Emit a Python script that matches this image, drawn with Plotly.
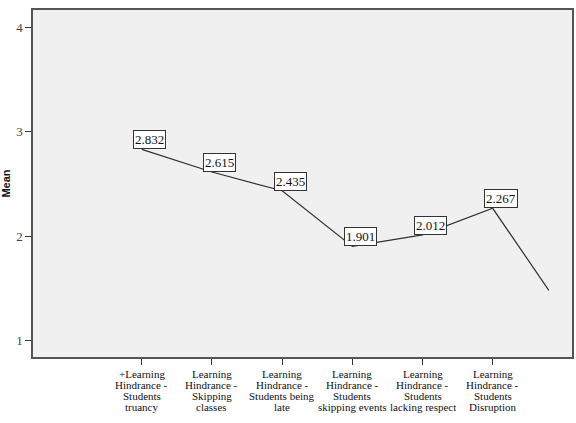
import plotly.graph_objects as go

categories = [
    ["+Learning", "Hindrance -", "Students", "truancy"],
    ["Learning", "Hindrance -", "Skipping", "classes"],
    ["Learning", "Hindrance -", "Students being", "late"],
    ["Learning", "Hindrance -", "Students", "skipping events"],
    ["Learning", "Hindrance -", "Students", "lacking respect"],
    ["Learning", "Hindrance -", "Students", "Disruption"],
]
means = [2.832, 2.615, 2.435, 1.901, 2.012, 2.267]
labels = ["2.832", "2.615", "2.435", "1.901", "2.012", "2.267"]
# trailing segment that continues past the last labelled category
tail_x = 6.8
tail_y = 1.48

xpos = list(range(1, len(categories) + 1))

fig = go.Figure()
fig.add_trace(go.Scatter(
    x=xpos + [tail_x], y=means + [tail_y], mode="lines",
    line=dict(color="#303030", width=1.2), hoverinfo="skip", showlegend=False,
))

for xv, yv, t in zip(xpos, means, labels):
    fig.add_annotation(
        x=xv, y=yv, text=t, showarrow=False, xanchor="center", yanchor="bottom",
        xshift=8, yshift=0,
        font=dict(family="Liberation Serif", size=13, color="#111"),
        bgcolor="white", bordercolor="#333", borderwidth=1, borderpad=1,
    )

# category labels, drawn line by line for tight line spacing
for xv, lines in zip(xpos, categories):
    for i, ln in enumerate(lines):
        fig.add_annotation(
            x=xv, xref="x", y=0, yref="paper", text=ln, showarrow=False,
            xanchor="center", yanchor="top", yshift=-8 - 11 * i, height=13,
            font=dict(family="Liberation Serif", size=11, color="#111"),
        )

fig.update_layout(
    width=576, height=423,
    margin=dict(l=30, r=2, t=10, b=66),
    paper_bgcolor="white", plot_bgcolor="#f0f0f0",
    showlegend=False,
)
fig.update_xaxes(
    range=[-0.55, 7.13], tickmode="array", tickvals=xpos, ticktext=[""] * len(xpos),
    ticks="outside", ticklen=6, tickcolor="#333", showgrid=False, zeroline=False,
    showline=True, linecolor="#555", linewidth=1.5, mirror=True,
)
fig.update_yaxes(
    range=[0.84, 4.17], tickvals=[1, 2, 3, 4], ticks="outside", ticklen=6,
    tickcolor="#333", showgrid=False, zeroline=False,
    showline=True, linecolor="#555", linewidth=1.5, mirror=True,
    tickfont=dict(family="Liberation Serif", size=13, color="#444"),
    title=dict(text="<b>Mean</b>", font=dict(family="Liberation Sans", size=11, color="#111"), standoff=6),
)

fig.write_html("out.html")
